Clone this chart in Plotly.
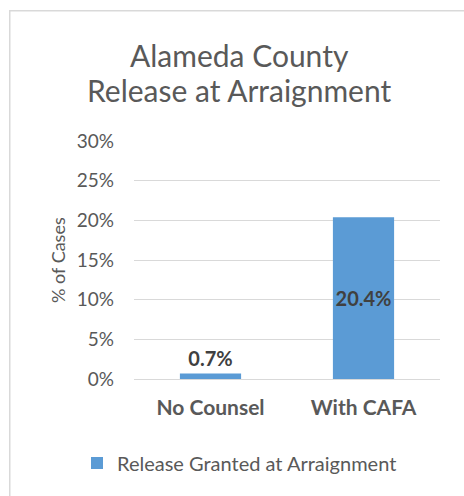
import plotly.graph_objects as go

categories = ["No Counsel", "With CAFA"]
values = [0.7, 20.4]
labels = ["0.7%", "20.4%"]
series_name = "Release Granted at Arraignment"
title_lines = ["Alameda County", "Release at Arraignment"]
y_title = "% of Cases"

FONT = "Lato"
W, H = 464, 496
L, R, T, B = 134, 24, 141, 117
PW, PH = W - L - R, H - T - B

def px(x):
    return (x - L) / PW

def py(y):
    return (H - B - y) / PH

fig = go.Figure()
fig.add_trace(go.Bar(
    x=categories, y=values, name=series_name,
    marker=dict(color="#5B9BD5", line=dict(width=0)),
    text=labels, textposition=["outside", "inside"], textangle=0,
    insidetextanchor="middle", constraintext="none",
    textfont=dict(family=FONT, size=20, color="#404040", weight="bold"),
    cliponaxis=False, showlegend=True,
))

fig.update_layout(
    width=W, height=H,
    margin=dict(l=L, r=R, t=T, b=B),
    paper_bgcolor="white", plot_bgcolor="white",
    bargap=0.6,
    font=dict(family=FONT, color="#595959"),
    showlegend=True,
    legend=dict(orientation="h", x=px(77), xanchor="left", y=py(463), yanchor="middle",
                font=dict(family=FONT, size=20, color="#595959")),
    xaxis=dict(showgrid=False, showline=False, ticks="", ticklabelstandoff=14,
               tickfont=dict(family=FONT, size=21, color="#595959", weight="bold")),
    yaxis=dict(range=[0, 30], dtick=5, ticksuffix="%", showgrid=True,
               gridcolor="#D9D9D9", gridwidth=1, zeroline=True, zerolinecolor="#D9D9D9",
               zerolinewidth=1, showline=False, ticks="", ticklabelstandoff=19,
               tickfont=dict(family=FONT, size=19, color="#595959")),
)

for i, t in enumerate(title_lines):
    fig.add_annotation(text=t, xref="paper", yref="paper", x=px(239), y=py([55, 90][i]),
                       xanchor="center", yanchor="middle", showarrow=False,
                       font=dict(family=FONT, size=30, color="#595959"))

fig.add_annotation(text=y_title, xref="paper", yref="paper", x=px(58), y=py(260),
                   xanchor="center", yanchor="middle", textangle=-90, showarrow=False,
                   font=dict(family=FONT, size=18, color="#595959"))

# chart-area frame: a bordered empty box whose right/bottom edges fall outside the page
fig.add_annotation(text=" ", xref="paper", yref="paper", x=px(9), y=py(10),
                   xanchor="left", yanchor="top", showarrow=False,
                   width=520, height=560, borderpad=0, borderwidth=1.5,
                   bordercolor="#D9D9D9", bgcolor="rgba(0,0,0,0)")

fig.write_html("out.html")
